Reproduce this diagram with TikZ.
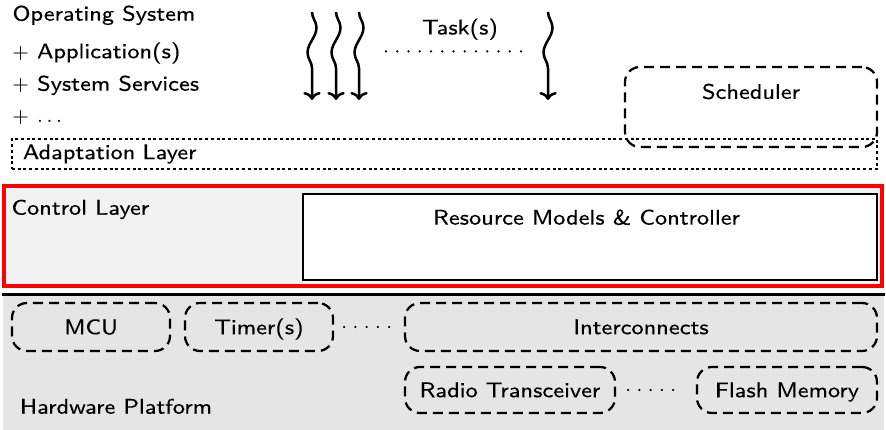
\documentclass[tikz,border=0pt]{standalone}
\usepackage{fontspec}
\setsansfont{lmsans8-regular.otf}[FakeStretch=1.08, FakeBold=0.12]
\usetikzlibrary{arrows.meta,decorations.pathmorphing}

\definecolor{ctrlfill}{gray}{0.95}
\definecolor{hwfill}{gray}{0.9}

\begin{document}
\begin{tikzpicture}[x=0.4pt,y=-0.4pt,
  every node/.style={font=\sffamily\fontsize{8.5}{10}\selectfont, inner sep=0pt},
  txt/.style={anchor=base west},
  dashbox/.style={draw, line width=0.9pt, dash pattern=on 4pt off 2.4pt,
    rounded corners=6pt, text height=5.8pt, text depth=0pt},
  dotbox/.style={draw, line width=1pt, dash pattern=on 1.2pt off 1.1pt},
  dotlink/.style={line width=1pt, line cap=round, dash pattern=on 0pt off 4.5pt},
  thread/.style={line width=1pt, -{To[length=3.2pt,width=7pt]},
    decorate, decoration={snake, amplitude=1.8pt, segment length=20pt,
    pre length=0pt, post length=5pt}},
]
\useasboundingbox (0,0) rectangle (886,430);

% software side: OS, applications, services
\node[txt] (os)   at (12,20.7)  {Operating System};
\node[txt] (app)  at (12,58.3)  {$+$ Application(s)};
\node[txt] (srv)  at (12,90.7)  {$+$ System Services};
\node[txt] (more) at (12,123)   {$+$ $\ldots$};

% tasks
\node[anchor=base] (tasks) at (460,34.5) {Task(s)};
\foreach \i/\x in {1/312,2/336,3/359,4/548}{
  \coordinate (t\i a) at (\x,12);
  \coordinate (t\i b) at (\x,100);
  \draw[thread] (t\i a) -- (t\i b);
}
\coordinate (tdl) at (386,51.5);
\coordinate (tdr) at (524,51.5);
\draw[dotlink] (tdl) -- (tdr);

% adaptation layer and scheduler
\node[dotbox, minimum width=346pt, minimum height=12pt, text width=337.2pt,
  inner xsep=4.4pt, align=left] (adapt) at (444.5,154) {Adaptation Layer};
\node[dashbox, minimum width=100.8pt, minimum height=32pt,
  label={[name=schedtxt, anchor=base, yshift=-13.2pt]north:Scheduler}]
  (sched) at (751,107) {};

% control layer
\node[draw=red, line width=1.6pt, fill=ctrlfill, minimum width=351pt,
  minimum height=40.2pt,
  label={[name=ctrltxt, anchor=base west, xshift=3.4pt, yshift=-12.3pt]north west:Control Layer}]
  (ctrl) at (443.25,236.25) {};
\node[draw, line width=0.9pt, fill=white, minimum width=229.6pt,
  minimum height=34.4pt,
  label={[name=rmtxt, anchor=base, xshift=-1.4pt, yshift=-12.7pt]north:Resource Models \& Controller}]
  (rm) at (590,237) {};

% hardware platform
\node[fill=hwfill, minimum width=352.4pt, minimum height=53.8pt,
  label={[name=hwtxt, anchor=base west, xshift=6.8pt, yshift=6.7pt]south west:Hardware Platform}]
  (hw) at (443.5,362.75) {};
\draw[line width=1.2pt] (hw.north west) -- (hw.north east);

\node[dashbox, minimum width=63.2pt, minimum height=19.2pt] (mcu)   at (91,327)  {MCU};
\node[dashbox, minimum width=59.2pt, minimum height=19.2pt] (timer) at (259,327) {Timer(s)};
\node[dashbox, minimum width=188.8pt, minimum height=19.2pt] (ic)   at (641,327) {Interconnects};
\node[dashbox, minimum width=84pt, minimum height=18.4pt] (radio)   at (510,390) {Radio Transceiver};
\node[dashbox, minimum width=72pt, minimum height=18.4pt] (flash)   at (787,390) {Flash Memory};

\draw[dotlink, shorten <=4pt, shorten >=5pt] (timer.east) -- (ic.west);
\draw[dotlink, shorten <=4.8pt, shorten >=5.2pt] (radio.east) -- (flash.west);
\end{tikzpicture}
\end{document}
